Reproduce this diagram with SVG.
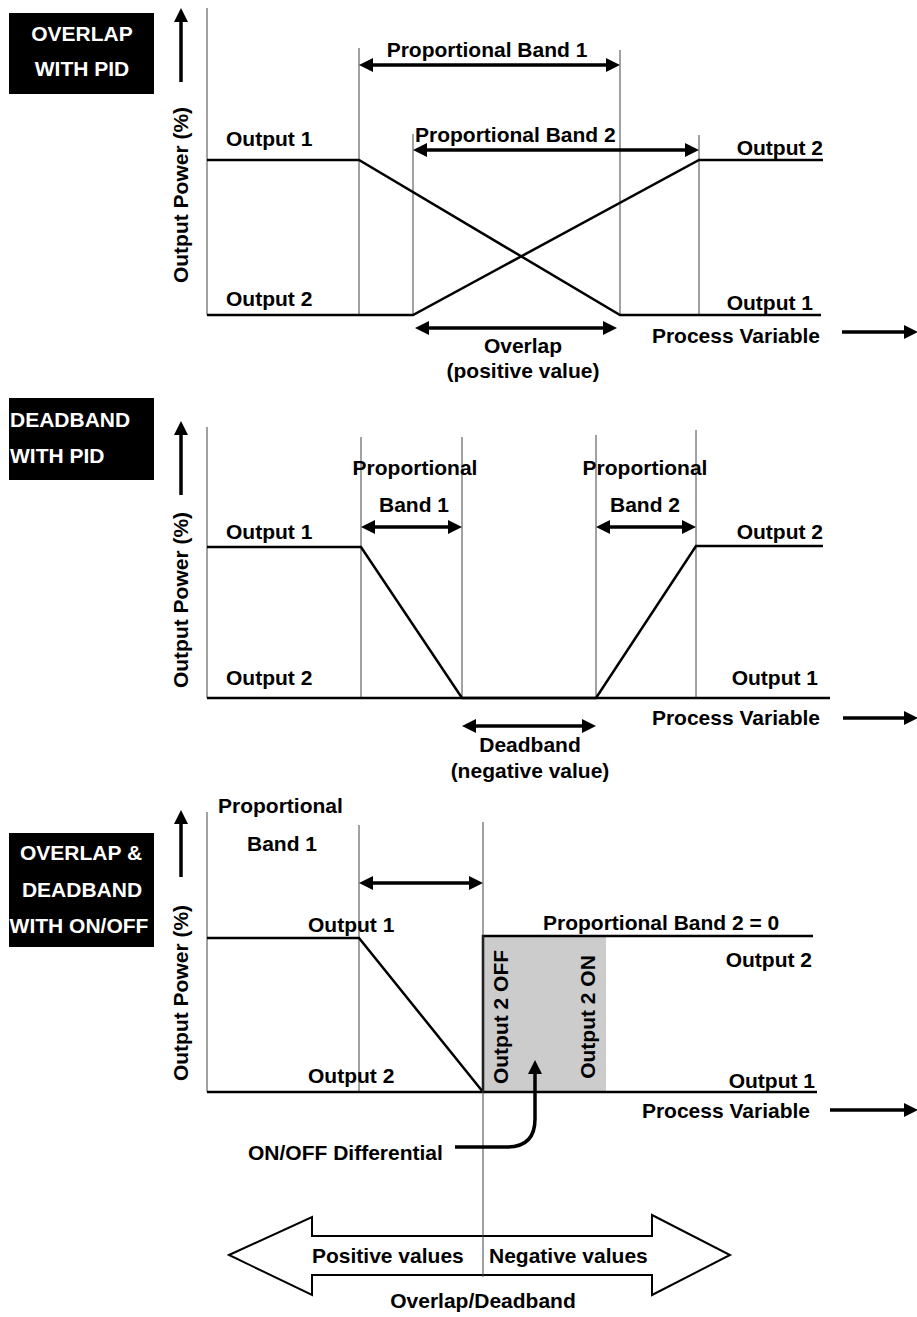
<svg xmlns="http://www.w3.org/2000/svg" width="917" height="1317" viewBox="0 0 917 1317">
<style>
text{font-family:"Liberation Sans",Arial,sans-serif;font-weight:bold;font-size:21px;fill:#000}
.w{fill:#fff}
.m{text-anchor:middle}
.e{text-anchor:end}
.guide{stroke:#444;stroke-width:1;fill:none}
.plot{stroke:#000;stroke-width:2.5;fill:none}
.dim{stroke:#000;stroke-width:3.5;fill:none}
</style>
<defs>
<marker id="ah" markerWidth="14" markerHeight="14" refX="10" refY="7" orient="auto-start-reverse" markerUnits="userSpaceOnUse" viewBox="0 0 14 14">
<path d="M0,0 L14,7 L0,14 Z" fill="#000"/>
</marker>
</defs>
<rect width="917" height="1317" fill="#fff"/>

<!-- Title boxes -->
<g id="box1">
<rect x="9" y="13" width="145" height="81" fill="#000"/>
<text class="w m" x="82" y="41">OVERLAP</text>
<text class="w m" x="82" y="76">WITH PID</text>
</g>
<g id="box2">
<rect x="9" y="398" width="145" height="82" fill="#000"/>
<text class="w" x="10" y="427">DEADBAND</text>
<text class="w" x="10" y="463">WITH PID</text>
</g>
<g id="box3">
<rect x="9" y="833" width="145" height="114" fill="#000"/>
<text class="w m" x="81" y="860">OVERLAP &amp;</text>
<text class="w m" x="82" y="897">DEADBAND</text>
<text class="w m" x="79" y="933">WITH ON/OFF</text>
</g>

<!-- Panel 1 -->
<g id="panel1">
<path class="guide" d="M207,8 V315 M359,48 V315 M620,50 V315 M413,134 V315 M699,135 V315"/>
<path class="plot" d="M207,160 H359 L620,315 H821"/>
<path class="plot" d="M207,315 H413 L699,160 H823"/>
<text transform="translate(188,195) rotate(-90)" class="m">Output Power (%)</text>
<text x="226" y="146">Output 1</text>
<text x="226" y="306">Output 2</text>
<text class="m" x="487" y="57">Proportional Band 1</text>
<text x="415" y="142">Proportional Band 2</text>
<text class="e" x="823" y="155">Output 2</text>
<text class="e" x="813" y="310">Output 1</text>
<text class="e" x="820" y="343">Process Variable</text>
<text class="m" x="523" y="353">Overlap</text>
<text class="m" x="523" y="378">(positive value)</text>
</g>

<!-- Panel 2 -->
<g id="panel2">
<path class="guide" d="M207,427 V698 M361,437 V698 M462,437 V698 M596,435 V698 M696,430 V698"/>
<path class="plot" d="M207,547 H361 L462,698 H830"/>
<path class="plot" d="M207,698 H596 L696,546 H823"/>
<text transform="translate(188,600) rotate(-90)" class="m">Output Power (%)</text>
<text x="226" y="539">Output 1</text>
<text x="226" y="685">Output 2</text>
<text class="m" x="415" y="475">Proportional</text>
<text class="m" x="414" y="512">Band 1</text>
<text class="m" x="645" y="475">Proportional</text>
<text class="m" x="645" y="512">Band 2</text>
<text class="e" x="823" y="539">Output 2</text>
<text class="e" x="818" y="685">Output 1</text>
<text class="e" x="820" y="725">Process Variable</text>
<text class="m" x="530" y="752">Deadband</text>
<text class="m" x="530" y="778">(negative value)</text>
</g>

<!-- Panel 3 -->
<g id="panel3">
<rect x="483" y="936" width="123" height="156" fill="#cccccc"/>
<path class="guide" d="M207,812 V1092 M359,825 V1092"/>
<path class="plot" d="M207,938 H359 L483,1092"/>
<path class="plot" d="M207,1092 H817"/>
<path class="plot" d="M483,1092 V936 H813"/>
<text transform="translate(188,993) rotate(-90)" class="m">Output Power (%)</text>
<text x="218" y="813">Proportional</text>
<text x="247" y="851">Band 1</text>
<text x="308" y="932">Output 1</text>
<text x="308" y="1083">Output 2</text>
<text x="543" y="930">Proportional Band 2 = 0</text>
<text class="e" x="812" y="967">Output 2</text>
<text class="e" x="815" y="1088">Output 1</text>
<text class="e" x="810" y="1118">Process Variable</text>
<text transform="translate(508,1017) rotate(-90)" class="m">Output 2 OFF</text>
<text transform="translate(595,1017) rotate(-90)" class="m">Output 2 ON</text>
<text x="248" y="1160">ON/OFF Differential</text>
</g>

<!-- Overlap/Deadband big arrow -->
<g id="bigarrow">
<path d="M229,1255 L312,1217 L312,1236 L652,1236 L652,1215 L730,1255 L652,1295 L652,1275 L312,1275 L312,1295 Z" fill="#fff" stroke="#000" stroke-width="2"/>
<path class="guide" d="M483,822 V1277"/>
<text x="312" y="1263">Positive values</text>
<text x="489" y="1263">Negative values</text>
<text class="m" x="483" y="1308">Overlap/Deadband</text>
</g>

<!-- Connectors -->
<g id="connectors">
<path class="dim" d="M181,82 V12" marker-end="url(#ah)"/>
<path class="dim" d="M181,495 V425" marker-end="url(#ah)"/>
<path class="dim" d="M181,877 V814" marker-end="url(#ah)"/>
<path class="dim" d="M842,332 H914" marker-end="url(#ah)"/>
<path class="dim" d="M843,718 H914" marker-end="url(#ah)"/>
<path class="dim" d="M830,1110 H914" marker-end="url(#ah)"/>
<path class="dim" d="M363,65 H616" marker-start="url(#ah)" marker-end="url(#ah)"/>
<path class="dim" d="M417,150 H695" marker-start="url(#ah)" marker-end="url(#ah)"/>
<path class="dim" d="M419,328 H613" marker-start="url(#ah)" marker-end="url(#ah)"/>
<path class="dim" d="M365,527 H458" marker-start="url(#ah)" marker-end="url(#ah)"/>
<path class="dim" d="M600,527 H692" marker-start="url(#ah)" marker-end="url(#ah)"/>
<path class="dim" d="M466,726 H592" marker-start="url(#ah)" marker-end="url(#ah)"/>
<path class="dim" d="M363,883 H479" marker-start="url(#ah)" marker-end="url(#ah)"/>
<path class="dim" d="M455,1147 H507 Q535,1147 535,1119 V1064" marker-end="url(#ah)"/>
</g>
</svg>
